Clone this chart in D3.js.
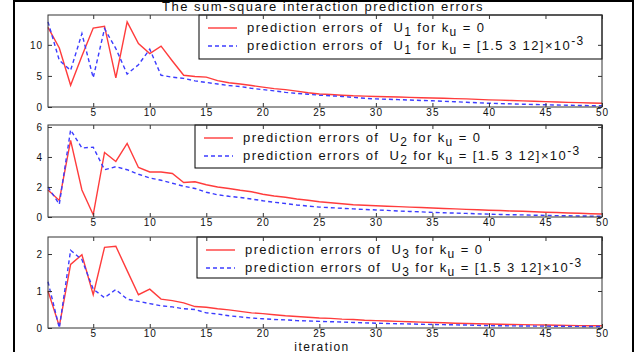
<!DOCTYPE html>
<html>
<head>
<meta charset="utf-8">
<script src="https://cdn.jsdelivr.net/npm/d3@7"></script>
<style>
  body { margin: 0; background: #fff; }
  svg { display: block; font-family: "Liberation Sans", Arial, sans-serif; }
</style>
</head>
<body>
<div id="chart"></div>
<script>
// iterations 1..50
const iterations = d3.range(1, 51);
const xTicks = [5, 10, 15, 20, 25, 30, 35, 40, 45, 50];

// U1
const u1Zero = [12.8, 9.5, 3.5, 8.2, 12.7, 13.0, 4.7, 13.7, 10.2, 8.6, 9.8, 7.4, 5.1, 4.9, 4.8, 4.25, 3.9, 3.7, 3.45, 3.2,
  2.95, 2.8, 2.55, 2.3, 2.1, 2.0, 1.9, 1.8, 1.75, 1.7, 1.65, 1.6, 1.55, 1.5, 1.45, 1.4, 1.35, 1.3, 1.22, 1.15,
  1.1, 1.05, 0.98, 0.92, 0.86, 0.8, 0.75, 0.7, 0.65, 0.6];
const u1Ku = [13.7, 7.5, 5.9, 11.8, 4.7, 12.6, 9.4, 5.3, 6.8, 9.3, 5.1, 4.8, 4.6, 4.2, 3.95, 3.7, 3.45, 3.3, 3.0, 2.8,
  2.6, 2.35, 2.2, 2.05, 1.9, 1.8, 1.7, 1.55, 1.4, 1.3, 1.25, 1.18, 1.12, 1.05, 1.0, 0.92, 0.85, 0.76, 0.68, 0.6,
  0.55, 0.5, 0.45, 0.4, 0.36, 0.32, 0.28, 0.25, 0.22, 0.2];
// U2
const u2Zero = [1.8, 1.1, 5.1, 1.8, 0.15, 4.3, 3.7, 4.9, 3.3, 3.0, 3.0, 2.9, 2.3, 2.35, 2.15, 2.0, 1.9, 1.78, 1.68, 1.52,
  1.4, 1.32, 1.2, 1.12, 1.02, 0.95, 0.88, 0.82, 0.78, 0.75, 0.72, 0.69, 0.66, 0.63, 0.6, 0.57, 0.54, 0.51, 0.48, 0.45,
  0.43, 0.4, 0.38, 0.35, 0.32, 0.3, 0.27, 0.25, 0.22, 0.2];
const u2Ku = [2.0, 0.85, 5.8, 4.6, 4.65, 3.15, 3.35, 3.15, 2.85, 2.6, 2.45, 2.25, 2.05, 1.9, 1.65, 1.48, 1.38, 1.3, 1.2, 1.08,
  0.98, 0.9, 0.8, 0.73, 0.66, 0.62, 0.58, 0.54, 0.5, 0.47, 0.44, 0.4, 0.37, 0.34, 0.31, 0.28, 0.26, 0.24, 0.21, 0.19,
  0.17, 0.15, 0.14, 0.12, 0.11, 0.09, 0.08, 0.07, 0.06, 0.05];
// U3
const u3Zero = [1.0, 0.05, 1.72, 1.98, 0.9, 2.18, 2.21, 1.55, 0.9, 1.05, 0.78, 0.74, 0.68, 0.58, 0.56, 0.52, 0.49, 0.45, 0.41, 0.39,
  0.36, 0.33, 0.31, 0.29, 0.27, 0.26, 0.24, 0.23, 0.21, 0.2, 0.19, 0.18, 0.17, 0.16, 0.15, 0.14, 0.13, 0.12, 0.115, 0.11,
  0.1, 0.095, 0.09, 0.085, 0.08, 0.075, 0.07, 0.065, 0.06, 0.06];
const u3Ku = [1.25, 0.0, 2.1, 1.85, 1.05, 0.82, 1.04, 0.78, 0.72, 0.66, 0.6, 0.57, 0.52, 0.5, 0.41, 0.38, 0.33, 0.3, 0.27, 0.25,
  0.23, 0.22, 0.2, 0.19, 0.18, 0.17, 0.16, 0.15, 0.14, 0.13, 0.12, 0.115, 0.11, 0.1, 0.095, 0.09, 0.085, 0.08, 0.07, 0.065,
  0.06, 0.058, 0.055, 0.052, 0.05, 0.048, 0.045, 0.043, 0.04, 0.04];

const yTicks1 = [0, 5, 10];
const yTicks2 = [0, 2, 4, 6];
const yTicks3 = [0, 1, 2];

const title = "The sum-square interaction prediction errors";
const xLabel = "iteration";

const width = 637, height = 352;
const red = "#ff3c3c", blue = "#3c3cff", axisColor = "#333";
const fontSize = 13, spacing = 1.4;

const svg = d3.select("#chart").append("svg")
  .attr("width", width)
  .attr("height", height);

// figure frame (left, top, right)
svg.append("path")
  .attr("d", `M14,${height} V1 H633 V${height}`)
  .attr("fill", "none")
  .attr("stroke", "#000")
  .attr("stroke-width", 2);

const x = d3.scaleLinear().domain([1, 50]).range([48, 602]);

const panels = [
  {sub: "1", top: 15, bottom: 107, yMax: 14.8, ticks: yTicks1, zero: u1Zero, ku: u1Ku, legend: {left: 199, bottom: 59}},
  {sub: "2", top: 125, bottom: 217, yMax: 6.13, ticks: yTicks2, zero: u2Zero, ku: u2Ku, legend: {left: 195, bottom: 168}},
  {sub: "3", top: 237, bottom: 328, yMax: 2.46, ticks: yTicks3, zero: u3Zero, ku: u3Ku, legend: {left: 197, bottom: 278}}
];

panels.forEach(p => {
  const y = d3.scaleLinear().domain([0, p.yMax]).range([p.bottom, p.top]);
  const g = svg.append("g");

  g.append("rect")
    .attr("x", x(1)).attr("y", p.top)
    .attr("width", x(50) - x(1)).attr("height", p.bottom - p.top)
    .attr("fill", "#fff");

  const line = d3.line().x((d, i) => x(iterations[i])).y(d => y(d));

  g.append("path")
    .datum(p.zero)
    .attr("d", line)
    .attr("fill", "none")
    .attr("stroke", red)
    .attr("stroke-width", 1.4);

  g.append("path")
    .datum(p.ku)
    .attr("d", line)
    .attr("fill", "none")
    .attr("stroke", blue)
    .attr("stroke-width", 1.4)
    .attr("stroke-dasharray", "4,3");

  // legend
  const lg = g.append("g");
  lg.append("rect")
    .attr("x", p.legend.left).attr("y", p.top)
    .attr("width", x(50) - p.legend.left).attr("height", p.legend.bottom - p.top)
    .attr("fill", "#fff")
    .attr("stroke", "#000")
    .attr("stroke-width", 1);

  const rows = [
    {color: red, dash: null, tail: "0", sup: null},
    {color: blue, dash: "4,3", tail: "[1.5 3 12]\u00d710", sup: "-3"}
  ];
  rows.forEach((r, k) => {
    const cy = p.top + 13 + k * 18;
    lg.append("line")
      .attr("x1", p.legend.left + 9).attr("x2", p.legend.left + 38)
      .attr("y1", cy).attr("y2", cy)
      .attr("stroke", r.color)
      .attr("stroke-width", 1.4)
      .attr("stroke-dasharray", r.dash);
    const t = lg.append("text")
      .attr("x", p.legend.left + 48)
      .attr("y", cy + 4)
      .attr("font-size", fontSize)
      .attr("letter-spacing", spacing)
      .attr("fill", "#111");
    t.append("tspan").text("prediction errors of \u00a0U");
    t.append("tspan").attr("dy", 4).attr("font-size", 12).text(p.sub);
    t.append("tspan").attr("dy", -4).text(" for k");
    t.append("tspan").attr("dy", 4).attr("font-size", 12).text("u");
    t.append("tspan").attr("dy", -4).text(" = " + r.tail);
    if (r.sup) t.append("tspan").attr("dy", -5).attr("font-size", 12).text(r.sup);
  });

  // axes with inward ticks on all four sides
  const ax = g.append("g")
    .attr("font-size", 12.5)
    .attr("letter-spacing", 1)
    .attr("font-family", "Liberation Sans, Arial, sans-serif");

  ax.append("g")
    .attr("transform", `translate(0,${p.bottom})`)
    .call(d3.axisBottom(x).tickValues(xTicks).tickSizeInner(-4).tickSizeOuter(0).tickPadding(2))
    .call(s => s.select(".domain").remove());
  ax.append("g")
    .attr("transform", `translate(0,${p.top})`)
    .call(d3.axisTop(x).tickValues(xTicks).tickSizeInner(-4).tickSizeOuter(0).tickFormat(""))
    .call(s => s.select(".domain").remove());
  ax.append("g")
    .attr("transform", `translate(${x(1)},0)`)
    .call(d3.axisLeft(y).tickValues(p.ticks).tickFormat(d3.format("d")).tickSizeInner(-4).tickSizeOuter(0).tickPadding(5))
    .call(s => s.select(".domain").remove());
  ax.append("g")
    .attr("transform", `translate(${x(50)},0)`)
    .call(d3.axisRight(y).tickValues(p.ticks).tickSizeInner(-4).tickSizeOuter(0).tickFormat(""))
    .call(s => s.select(".domain").remove());

  ax.selectAll(".tick line").attr("stroke", axisColor);
  ax.selectAll(".tick text").attr("fill", "#111");

  ax.append("rect")
    .attr("x", x(1)).attr("y", p.top)
    .attr("width", x(50) - x(1)).attr("height", p.bottom - p.top)
    .attr("fill", "none")
    .attr("stroke", axisColor)
    .attr("stroke-width", 1);
});

svg.append("text")
  .attr("x", 323).attr("y", 11)
  .attr("text-anchor", "middle")
  .attr("font-size", fontSize)
  .attr("letter-spacing", 1.5)
  .attr("fill", "#111")
  .text(title);

svg.append("text")
  .attr("x", 322).attr("y", 350.5)
  .attr("text-anchor", "middle")
  .attr("font-size", 12)
  .attr("letter-spacing", 1.4)
  .attr("fill", "#111")
  .text(xLabel);
</script>
</body>
</html>
